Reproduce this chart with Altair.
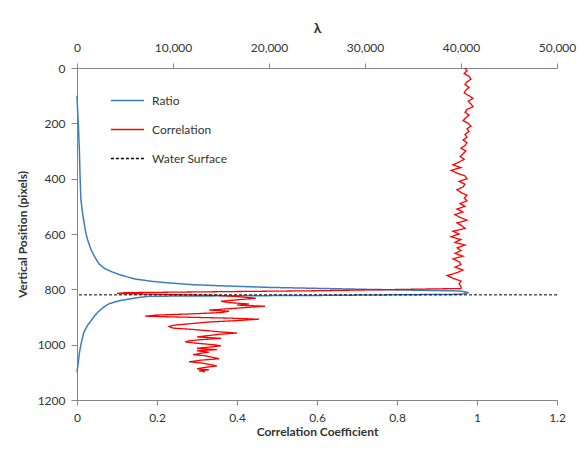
import altair as alt
import pandas as pd

# ---- Ratio (lambda) profile, top axis ----
ratio_depth = [100, 150, 212, 300, 393, 473, 530, 593, 620, 654, 680, 708, 725, 737, 750, 763, 771, 777, 783,
               787, 793, 800, 806, 812,
               818, 822, 824, 825, 830, 840, 846, 853, 865, 880, 893, 907, 930, 954, 980, 1004, 1030, 1063,
               1085, 1100]
ratio_lam = [0, 60, 150, 250, 320, 400, 600, 900, 1100, 1430, 1800, 2290, 2900, 3650, 4700, 6100, 7800, 9600,
             12000, 14800, 20000, 30000, 40000, 40800,
             40000, 25000, 12000, 7500, 6300, 4600, 3900, 3300, 2750, 2250, 1900, 1600, 1100, 730, 530, 385,
             250, 135, 50, 0]

# ---- Correlation profile, bottom axis ----
corr_depth = [0, 10, 20, 30, 40, 50, 60, 70, 80, 90, 100, 110, 120, 130, 140, 150, 160, 170, 180, 190,
              200, 210, 220, 230, 240, 250, 260, 270, 280, 290, 300, 310, 320, 330, 340, 350, 360, 370, 380, 390,
              400, 410, 420, 430, 440, 450, 460, 470, 480, 490, 500, 510, 520, 530, 540, 550, 560, 570, 580, 590,
              600, 610, 620, 630, 640, 650, 660, 670, 680, 690, 700, 710, 720, 730, 740, 750, 760, 770, 780, 790,
              797, 805, 812, 815, 818, 822, 826,
              832, 838, 843, 848, 853, 857, 861, 866, 870, 875, 879, 884, 889, 893, 897, 900, 904, 908, 913, 918,
              922, 926, 930, 934, 940, 945, 950, 954, 958, 962, 967, 972, 977, 982, 986, 990, 995, 1000, 1004,
              1009, 1013, 1018, 1022, 1027, 1031, 1036, 1040, 1046, 1051, 1056, 1062, 1066, 1071, 1077, 1082,
              1087, 1091, 1094, 1098]
corr_val = [0.97, 0.975, 0.968, 0.98, 0.985, 0.975, 0.97, 0.98, 0.972, 0.968, 0.98, 0.99, 0.978, 0.985, 0.99,
            0.975, 0.97, 0.98, 0.972, 0.965, 0.978, 0.985, 0.975, 0.98, 0.97, 0.975, 0.965, 0.975, 0.97, 0.96,
            0.972, 0.965, 0.958, 0.968, 0.955, 0.94, 0.96, 0.935, 0.95, 0.97, 0.975, 0.955, 0.97, 0.965, 0.95,
            0.96, 0.975, 0.968, 0.975, 0.958, 0.97, 0.95, 0.965, 0.945, 0.958, 0.975, 0.95, 0.962, 0.97, 0.94,
            0.955, 0.935, 0.96, 0.945, 0.97, 0.95, 0.96, 0.945, 0.965, 0.94, 0.955, 0.96, 0.945, 0.965, 0.95,
            0.925, 0.94, 0.96, 0.955, 0.96,
            0.96, 0.6, 0.12, 0.1, 0.2, 0.35, 0.4,
            0.447, 0.40, 0.36, 0.38, 0.43, 0.40, 0.47, 0.42, 0.38, 0.33, 0.38, 0.36, 0.28, 0.2, 0.17, 0.25,
            0.38, 0.455, 0.40, 0.33, 0.30, 0.27, 0.24, 0.23, 0.24, 0.29, 0.33, 0.36, 0.40, 0.36, 0.33, 0.30,
            0.36, 0.31, 0.28, 0.27, 0.30, 0.34, 0.36, 0.33, 0.30, 0.35, 0.30, 0.33, 0.31, 0.29, 0.32, 0.34,
            0.355, 0.31, 0.28, 0.31, 0.33, 0.35, 0.32, 0.30, 0.33, 0.305, 0.32]

water_surface = [820]

series_names = ["Ratio", "Correlation", "Water Surface"]
series_colors = ["#3b7dc4", "#ff0000", "#000000"]
series_dash = [[1, 0], [1, 0], [3, 2]]

ratio_df = pd.DataFrame({"depth": ratio_depth, "lam": ratio_lam, "series": "Ratio"})
corr_df = pd.DataFrame({"depth": corr_depth, "corr": corr_val, "series": "Correlation"})
ws_df = pd.DataFrame({"depth": water_surface, "series": "Water Surface"})

FONT = "Lato"
AX = "#868686"
TXT = "#333333"

y_enc = alt.Y("depth:Q",
              scale=alt.Scale(domain=[0, 1200], reverse=True, nice=False),
              axis=alt.Axis(values=[0, 200, 400, 600, 800, 1000, 1200], format="d",
                            title="Vertical Position (pixels)", tickSize=6, labelPadding=6,
                            titlePadding=8))

legend_opts = dict(title=None, orient="none", legendX=33, legendY=15,
                   symbolType="stroke", symbolSize=1100, symbolStrokeWidth=1.5,
                   rowPadding=5, labelOffset=7, padding=0,
                   labelFontSize=12, labelFont=FONT, labelColor=TXT)

color_enc = alt.Color("series:N",
                      scale=alt.Scale(domain=series_names, range=series_colors),
                      legend=alt.Legend(**legend_opts))
dash_enc = alt.StrokeDash("series:N",
                          scale=alt.Scale(domain=series_names, range=series_dash),
                          legend=alt.Legend(**legend_opts))

ratio_line = alt.Chart(ratio_df).mark_line(strokeWidth=1.5).encode(
    x=alt.X("lam:Q", scale=alt.Scale(domain=[0, 50000], nice=False),
            axis=alt.Axis(orient="top", values=[0, 10000, 20000, 30000, 40000, 50000], format=",d",
                          labelFlush=False,
                          title="λ", titleFontSize=14, tickSize=5, labelPadding=9, titlePadding=6)),
    y=y_enc,
    order=alt.Order("depth:Q"),
    color=color_enc,
    strokeDash=dash_enc,
)

corr_line = alt.Chart(corr_df).mark_line(strokeWidth=1.3).encode(
    x=alt.X("corr:Q", scale=alt.Scale(domain=[0, 1.2], nice=False),
            axis=alt.Axis(orient="bottom", values=[0, 0.2, 0.4, 0.6, 0.8, 1, 1.2], format="~g",
                          labelFlush=False,
                          title="Correlation Coefficient", tickSize=5, labelPadding=7, titlePadding=3)),
    y=y_enc,
    order=alt.Order("depth:Q"),
    color=color_enc,
    strokeDash=dash_enc,
)

ws_rule = alt.Chart(ws_df).mark_rule(strokeWidth=1).encode(
    y=y_enc,
    color=color_enc,
    strokeDash=dash_enc,
)

chart = alt.layer(ratio_line, corr_line, ws_rule).resolve_scale(x="independent").properties(
    width=480, height=332,
    padding={"left": 69, "top": 60, "right": 20, "bottom": 42},
    autosize=alt.AutoSizeParams(type="none"),
).configure_view(stroke=None).configure_axis(
    grid=False, domainColor=AX, tickColor=AX, labelFont=FONT, labelFontSize=12, labelColor=TXT,
    titleFont=FONT, titleFontSize=12, titleFontWeight="bold", titleColor=TXT,
)

chart.save("out.html", embed_options={"renderer": "svg", "actions": False})
